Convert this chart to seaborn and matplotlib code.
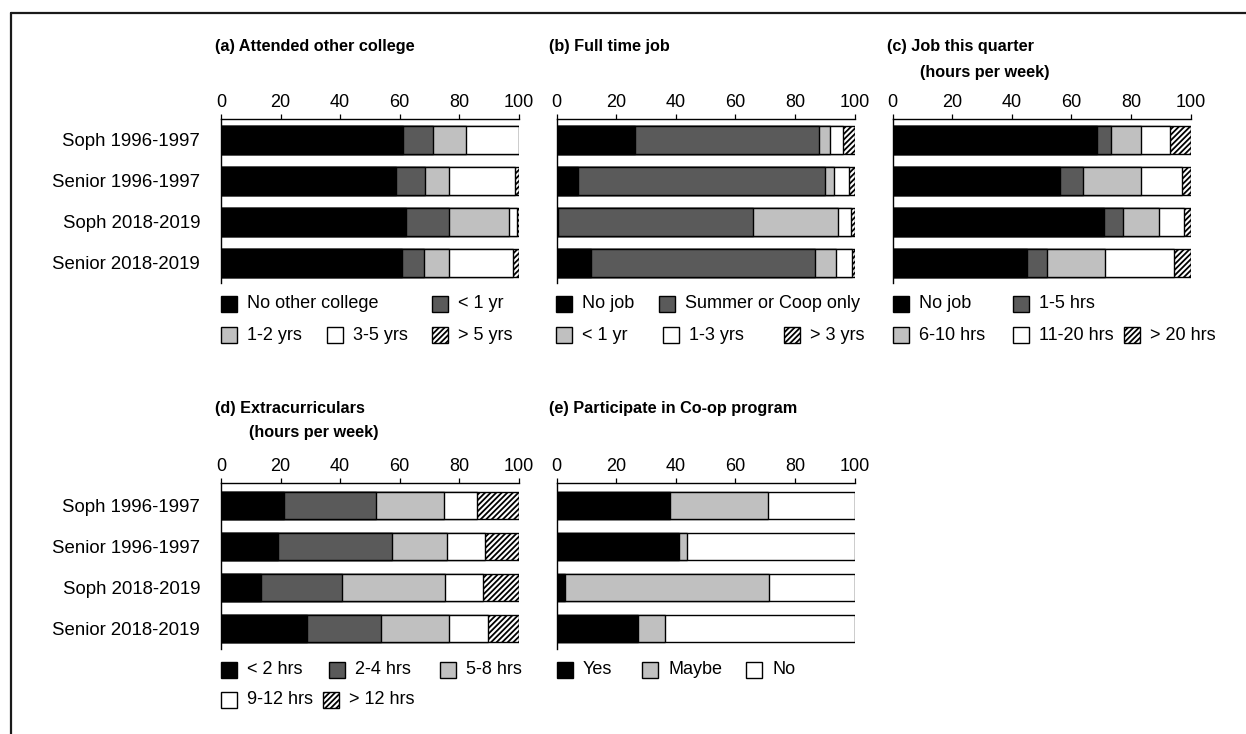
import numpy as np
import pandas as pd
import matplotlib
matplotlib.use("Agg")
import matplotlib.pyplot as plt
from matplotlib.patches import Rectangle
from matplotlib.lines import Line2D
import seaborn as sns

# ---------------------------------------------------------------- data (%)
groups = ["Soph 1996-1997", "Senior 1996-1997", "Soph 2018-2019", "Senior 2018-2019"]
x_ticks = [0, 20, 40, 60, 80, 100]

# (a) Attended other college
college_labels = ["No other college", "< 1 yr", "1-2 yrs", "3-5 yrs", "> 5 yrs"]
college_none = [61.3, 58.7, 62.2, 60.7]
college_lt1 = [9.8, 9.9, 14.3, 7.5]
college_1_2 = [11.1, 8.2, 20.4, 8.5]
college_3_5 = [17.8, 22.1, 2.6, 21.6]
college_gt5 = [0.0, 1.1, 0.5, 1.7]

# (b) Full time job
fulltime_labels = ["No job", "Summer or Coop only", "< 1 yr", "1-3 yrs", "> 3 yrs"]
fulltime_none = [26.4, 7.1, 0.4, 11.6]
fulltime_summer = [61.6, 83.0, 65.6, 75.3]
fulltime_lt1 = [3.9, 3.0, 28.6, 6.9]
fulltime_1_3 = [4.1, 4.9, 4.2, 5.3]
fulltime_gt3 = [4.0, 2.0, 1.2, 0.9]

# (c) Job this quarter (hours per week)
quarter_labels = ["No job", "1-5 hrs", "6-10 hrs", "11-20 hrs", "> 20 hrs"]
quarter_none = [68.7, 56.3, 70.9, 45.2]
quarter_1_5 = [4.7, 7.7, 6.3, 6.7]
quarter_6_10 = [9.9, 19.3, 12.2, 19.5]
quarter_11_20 = [9.8, 13.7, 8.4, 23.1]
quarter_gt20 = [6.9, 3.0, 2.2, 5.5]

# (d) Extracurriculars (hours per week)
extra_labels = ["< 2 hrs", "2-4 hrs", "5-8 hrs", "9-12 hrs", "> 12 hrs"]
extra_lt2 = [21.1, 19.3, 13.5, 28.8]
extra_2_4 = [30.9, 38.2, 27.2, 24.9]
extra_5_8 = [23.1, 18.3, 34.7, 23.0]
extra_9_12 = [10.9, 13.0, 12.7, 13.1]
extra_gt12 = [14.0, 11.2, 11.9, 10.2]

# (e) Participate in Co-op program
coop_labels = ["Yes", "Maybe", "No"]
coop_yes = [38.2, 41.2, 2.9, 27.3]
coop_maybe = [32.8, 2.7, 68.3, 9.1]
coop_no = [29.0, 56.1, 28.8, 63.6]

# ---------------------------------------------------------------- styling
BLACK = ("#000000", None)
DARK = ("#5a5a5a", None)
LIGHT = ("#c0c0c0", None)
WHITE = ("#ffffff", None)
HATCH = ("#ffffff", "//////")
five_styles = [BLACK, DARK, LIGHT, WHITE, HATCH]
three_styles = [BLACK, LIGHT, WHITE]

sns.set_theme(style="white")
plt.rcParams["font.family"] = ["Liberation Sans", "DejaVu Sans"]
plt.rcParams["hatch.linewidth"] = 1.3

W, H = 1246, 734
fig = plt.figure(figsize=(W / 100, H / 100), dpi=100)


def fx(px):
    return px / W


def fy(py):
    return 1 - py / H


def make_axes(left, right, top, bottom):
    return fig.add_axes([fx(left), fy(bottom), fx(right - left), (bottom - top) / H])


def stacked(ax, segments, styles, ylims, show_groups):
    cum = np.cumsum(np.array(segments, dtype=float), axis=0)
    # draw from the full bar down so every shorter cumulative bar sits on top
    for k in range(len(segments) - 1, -1, -1):
        df = pd.DataFrame({"group": groups, "pct": cum[k]})
        face, hatch = styles[k]
        sns.barplot(data=df, x="pct", y="group", order=groups, orient="h",
                    color=face, saturation=1, edgecolor="black", linewidth=1.0,
                    width=0.68, hatch=hatch, errorbar=None, ax=ax)
    ax.set_xlim(0, 100)
    ax.set_ylim(*ylims)
    ax.set_xlabel("")
    ax.set_ylabel("")
    ax.xaxis.tick_top()
    ax.set_xticks(x_ticks)
    ax.set_xticklabels([str(t) for t in x_ticks], fontsize=13)
    ax.tick_params(axis="x", top=True, bottom=False, length=3.6, width=0.9,
                   pad=2, color="black", labelcolor="black")
    ax.tick_params(axis="y", left=False, length=0, pad=15, labelsize=13.4,
                   labelcolor="black", labelleft=show_groups)
    for side in ("right", "bottom"):
        ax.spines[side].set_visible(False)
    for side in ("top", "left"):
        ax.spines[side].set_visible(True)
        ax.spines[side].set_color("black")
        ax.spines[side].set_linewidth(1.0)
    ax.set_facecolor("white")
    ax.grid(False)


def legend_item(x, y, label, style):
    face, hatch = style
    fig.add_artist(Rectangle((fx(x), fy(y + 8)), fx(16), 16 / H,
                             facecolor=face, edgecolor="black", linewidth=1.0,
                             hatch=hatch, transform=fig.transFigure))
    fig.text(fx(x + 26), fy(y), label, fontsize=13, va="center", ha="left",
             color="black")


def title(x, y, text):
    fig.text(fx(x), fy(y), text, fontsize=11.7, fontweight="bold",
             va="center", ha="left", color="black")


top_ylim = (3.49, -0.51)
bot_ylim = (3.5, -0.55)

ax_a = make_axes(221, 518.5, 119, 283)
stacked(ax_a, [college_none, college_lt1, college_1_2, college_3_5, college_gt5],
        five_styles, top_ylim, True)
ax_b = make_axes(556.5, 854.5, 119, 283)
stacked(ax_b, [fulltime_none, fulltime_summer, fulltime_lt1, fulltime_1_3, fulltime_gt3],
        five_styles, top_ylim, False)
ax_c = make_axes(892.5, 1190.5, 119, 283)
stacked(ax_c, [quarter_none, quarter_1_5, quarter_6_10, quarter_11_20, quarter_gt20],
        five_styles, top_ylim, False)
ax_d = make_axes(221, 518.5, 483, 649)
stacked(ax_d, [extra_lt2, extra_2_4, extra_5_8, extra_9_12, extra_gt12],
        five_styles, bot_ylim, True)
ax_e = make_axes(556.5, 854.5, 483, 649)
stacked(ax_e, [coop_yes, coop_maybe, coop_no], three_styles, bot_ylim, False)

# panel titles
title(215, 47, "(a) Attended other college")
title(549, 47, "(b) Full time job")
title(887, 47, "(c) Job this quarter")
title(920, 72, "(hours per week)")
title(215, 408, "(d) Extracurriculars")
title(249, 432, "(hours per week)")
title(549, 408, "(e) Participate in Co-op program")

# legends
legend_item(221, 304, college_labels[0], five_styles[0])
legend_item(432, 304, college_labels[1], five_styles[1])
legend_item(221, 335, college_labels[2], five_styles[2])
legend_item(327, 335, college_labels[3], five_styles[3])
legend_item(432, 335, college_labels[4], five_styles[4])

legend_item(556, 304, fulltime_labels[0], five_styles[0])
legend_item(659, 304, fulltime_labels[1], five_styles[1])
legend_item(556, 335, fulltime_labels[2], five_styles[2])
legend_item(663, 335, fulltime_labels[3], five_styles[3])
legend_item(784, 335, fulltime_labels[4], five_styles[4])

legend_item(893, 304, quarter_labels[0], five_styles[0])
legend_item(1013, 304, quarter_labels[1], five_styles[1])
legend_item(893, 335, quarter_labels[2], five_styles[2])
legend_item(1013, 335, quarter_labels[3], five_styles[3])
legend_item(1124, 335, quarter_labels[4], five_styles[4])

legend_item(221, 670, extra_labels[0], five_styles[0])
legend_item(329, 670, extra_labels[1], five_styles[1])
legend_item(440, 670, extra_labels[2], five_styles[2])
legend_item(221, 700, extra_labels[3], five_styles[3])
legend_item(323, 700, extra_labels[4], five_styles[4])

legend_item(557, 670, coop_labels[0], three_styles[0])
legend_item(642, 670, coop_labels[1], three_styles[1])
legend_item(746, 670, coop_labels[2], three_styles[2])

# outer frame (top and left edges)
fig.add_artist(Line2D([fx(11), fx(W + 5)], [fy(12.5), fy(12.5)], color="#1a1a1a",
                      linewidth=1.6, transform=fig.transFigure))
fig.add_artist(Line2D([fx(11), fx(11)], [fy(12.5), fy(H + 5)], color="#1a1a1a",
                      linewidth=1.6, transform=fig.transFigure))

fig.savefig("out.png", dpi=100, facecolor="white")
